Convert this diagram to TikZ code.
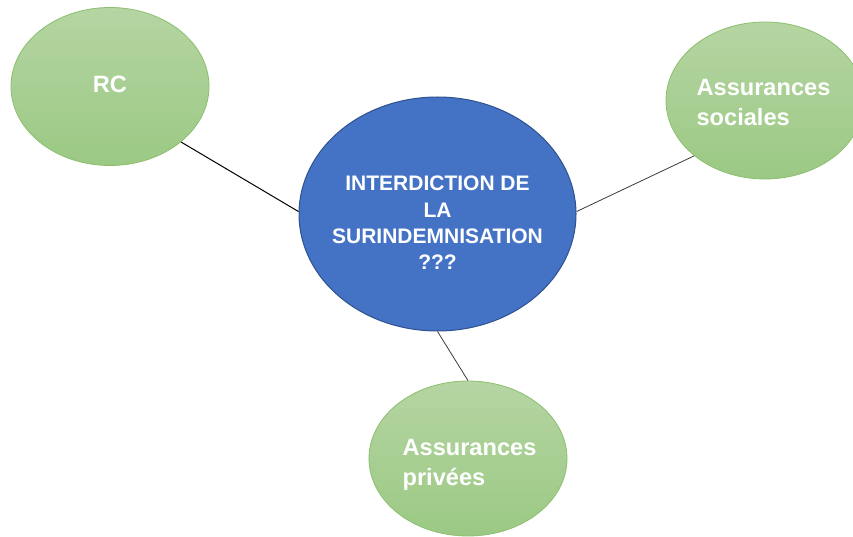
\documentclass[tikz,border=0pt]{standalone}
\usepackage{fontspec}
\setmainfont{Liberation Sans}
\usetikzlibrary{shapes.geometric}
\definecolor{bluefill}{HTML}{4472C4}
\definecolor{blueedge}{HTML}{2F528F}
\definecolor{greentop}{HTML}{B5D5A2}
\definecolor{greenbot}{HTML}{9BC984}
\definecolor{greenedge}{HTML}{8CBF6E}
\definecolor{linkgray}{HTML}{3A3A3A}
\begin{document}
\begin{tikzpicture}[x=1pt,y=-1pt,
  hub/.style={ellipse, draw=blueedge, line width=1pt, fill=bluefill, inner sep=0pt},
  leaf/.style={ellipse, draw=greenedge, line width=0.8pt, top color=greentop, bottom color=greenbot, inner sep=0pt,
    minimum width=198pt, minimum height=157pt},
  hubtext/.style={text=white, font=\bfseries\fontsize{21}{26.3}\selectfont, align=center, inner sep=0pt},
  leaftext/.style={text=white, font=\bfseries\fontsize{23.6}{29.5}\selectfont, align=left, inner sep=0pt},
  link/.style={draw=linkgray, line width=0.8pt}
]
\useasboundingbox (0,0) rectangle (853,537);

% ellipses
\node[leaf, minimum height=158pt] (rc) at (110,86.5) {};
\node[leaf] (soc) at (765,100.5) {};
\node[leaf, minimum height=155pt] (priv) at (468,458.5) {};
\node[hub, minimum width=277pt, minimum height=234pt] (hub) at (437.5,214) {};

% labels
\node[leaftext] (rct) at (110,84) {RC};
\node[leaftext] (soct) at (763.5,102.5) {Assurances\\sociales};
\node[leaftext] (privt) at (469.5,465) {Assurances\\privées};
\node[hubtext] (hubt) at (437.5,223) {INTERDICTION DE\\LA\\SURINDEMNISATION\\???};

% connectors
\draw[link, draw=black, line width=1pt] (rc.-38.7) -- (hub.179);
\draw[link] (hub.1) -- (soc.218.8);
\draw[link] (hub.270) -- (priv.90);
\end{tikzpicture}
\end{document}
